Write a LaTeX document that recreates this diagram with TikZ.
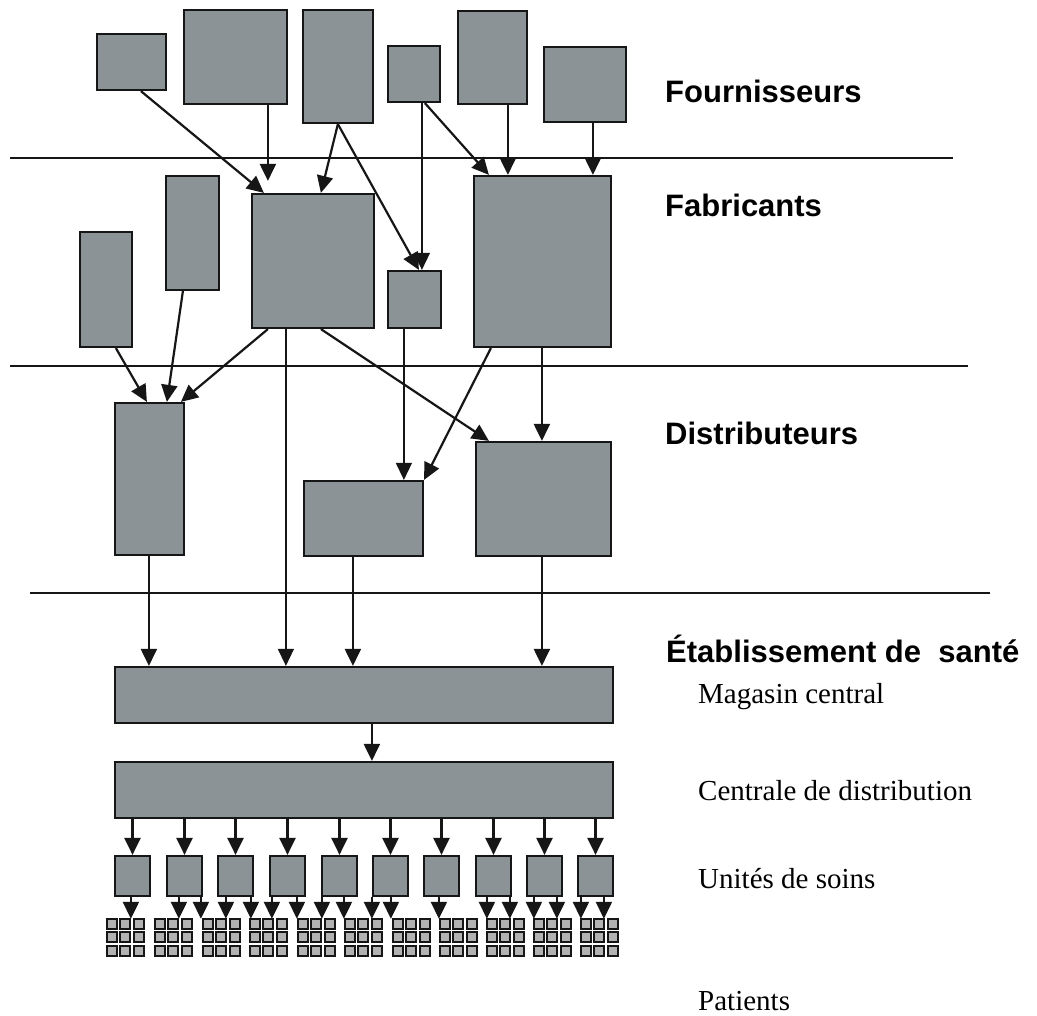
\documentclass[tikz,border=0pt]{standalone}
\usepackage{fontspec}
\setmainfont{Liberation Serif}
\newfontfamily\headfont{Liberation Sans}
\usetikzlibrary{arrows.meta,fit,calc}
\definecolor{boxgray}{RGB}{139,147,151}
\definecolor{ink}{RGB}{22,22,22}
\begin{document}
\begin{tikzpicture}[x=1pt,y=-1pt,
  sbox/.style={draw=ink, line width=2.2pt, fill=boxgray, inner sep=0pt},
  arr/.style={draw=ink, line width=2.2pt, -{Triangle[length=17pt,width=16pt]}},
  thinarr/.style={arr, line width=1.4pt},
  tier/.style={draw=ink, line width=1.6pt},
  tlabel/.style={font=\headfont\bfseries\fontsize{31}{36}\selectfont, anchor=base west, inner sep=0pt},
  slabel/.style={font=\fontsize{29}{34}\selectfont, anchor=base west, inner sep=0pt},
  cell/.style={draw=ink, line width=2pt, fill=gray!60}]

\fill[white] (0,0) rectangle (1037,1016);
\useasboundingbox (0,0) rectangle (1037,1016);

% separators between the tiers of the chain
\draw[tier] (10,158) -- (953,158);
\draw[tier] (10,366) -- (968,366);
\draw[tier] (30,593) -- (990,593);

% tier labels
\node[tlabel] (lf) at (665,103) {Fournisseurs};
\node[tlabel] (lm) at (665,217) {Fabricants};
\node[tlabel] (ld) at (665,445) {Distributeurs};
\node[tlabel] (le) at (666,662) {Établissement de\ \ santé};
\node[slabel] (lmc) at (698,703) {Magasin central};
\node[slabel] (lcd) at (698,800) {Centrale de distribution};
\node[slabel] (lus) at (698,888) {Unités de soins};
\node[slabel] (lpa) at (698,1010) {Patients};

% suppliers
\node[sbox, fit={(97,34) (166,90)}] (f1) {};
\node[sbox, fit={(184,10) (287,104)}] (f2) {};
\node[sbox, fit={(303,10) (373,123)}] (f3) {};
\node[sbox, fit={(388,46) (440,102)}] (f4) {};
\node[sbox, fit={(458,11) (527,104)}] (f5) {};
\node[sbox, fit={(544,47) (626,122)}] (f6) {};

% manufacturers
\node[sbox, fit={(80,232) (132,347)}] (m1) {};
\node[sbox, fit={(166,176) (219,290)}] (m2) {};
\node[sbox, fit={(252,194) (374,328)}] (m3) {};
\node[sbox, fit={(388,271) (441,328)}] (m4) {};
\node[sbox, fit={(474,176) (611,347)}] (m5) {};

% distributors
\node[sbox, fit={(115,403) (184,555)}] (d1) {};
\node[sbox, fit={(304,481) (423,556)}] (d2) {};
\node[sbox, fit={(476,442) (611,556)}] (d3) {};

% health facility
\node[sbox, fit={(115,667) (613,723)}] (mc) {};
\node[sbox, fit={(115,762) (613,818)}] (cd) {};

% care units
\foreach \i/\x in {1/115,2/167,3/218,4/270,5/322,6/373,7/424,8/476,9/527,10/578}
  \node[sbox, fit={(\x,856) (\x+35,896)}] (u\i) {};

% patients, 3x3 groups
\foreach \g/\x in {1/107,2/155,3/203,4/250,5/298,6/345,7/393,8/440,9/487,10/534,11/581}{
  \node[inner sep=0pt, fit={(\x,919) (\x+37,956)}] (p\g) {};
  \foreach \r in {0,1,2}
    \foreach \c in {0,1,2}
      \draw[cell] ($(p\g.north west)+(\c*13.5,\r*13.5)$) rectangle +(10,10);
}

% suppliers -> manufacturers
\draw[arr] ([xshift=45pt]f1.south west) -- ([xshift=13pt]m3.north west);
\draw[arr] ([xshift=85pt]f2.south west) -- ([xshift=17pt,yshift=12pt]m3.north west);
\draw[arr] ([xshift=36pt]f3.south west) -- ([xshift=70pt]m3.north west);
\draw[arr] ([xshift=36pt]f3.south west) -- ([xshift=32pt]m4.north west);
\draw[thinarr] ([xshift=35pt]f4.south west) -- ([xshift=35pt]m4.north west);
\draw[arr] ([xshift=38pt]f4.south west) -- ([xshift=16pt]m5.north west);
\draw[arr] ([xshift=51pt]f5.south west) -- ([xshift=35pt]m5.north west);
\draw[arr] ([xshift=50pt]f6.south west) -- ([xshift=120pt]m5.north west);

% manufacturers -> distributors / facility
\draw[arr] ([xshift=37pt]m1.south west) -- ([xshift=33pt]d1.north west);
\draw[arr] ([xshift=18pt]m2.south west) -- ([xshift=53pt]d1.north west);
\draw[arr] ([xshift=17pt]m3.south west) -- ([xshift=67pt]d1.north west);
\draw[thinarr] ([xshift=35pt]m3.south west) -- ([xshift=172pt]mc.north west);
\draw[arr] ([xshift=70pt]m3.south west) -- ([xshift=14pt]d3.north west);
\draw[thinarr] ([xshift=17pt]m4.south west) -- ([xshift=101pt]d2.north west);
\draw[arr] ([xshift=18pt]m5.south west) -- (d2.north east);
\draw[arr] ([xshift=69pt]m5.south west) -- ([xshift=67pt]d3.north west);

% distributors -> central store
\draw[arr] ([xshift=35pt]d1.south west) -- ([xshift=35pt]mc.north west);
\draw[arr] ([xshift=50pt]d2.south west) -- ([xshift=239pt]mc.north west);
\draw[arr] ([xshift=67pt]d3.south west) -- ([xshift=428pt]mc.north west);

% central store -> distribution centre -> care units
\draw[arr] ([xshift=258pt]mc.south west) -- ([xshift=258pt]cd.north west);
\foreach \i in {1,...,10}
  \draw[arr] (cd.south -| u\i.north) -- (u\i.north);

% care units -> patients
\foreach \u/\dx/\g in {1/17/1,2/13/2,2/35/3,3/9/3,3/34/4,4/3/4,4/28/5,5/1/5,5/23/6,
                       6/0/6,6/19/7,7/16/8,8/12/9,8/35/9,9/8/10,9/31/10,10/4/11,10/27/11}
  \draw[arr] ($(u\u.south west)+(\dx,0)$) -- ($(u\u.south west |- p\g.north)+(\dx,0)$);

\end{tikzpicture}
\end{document}
